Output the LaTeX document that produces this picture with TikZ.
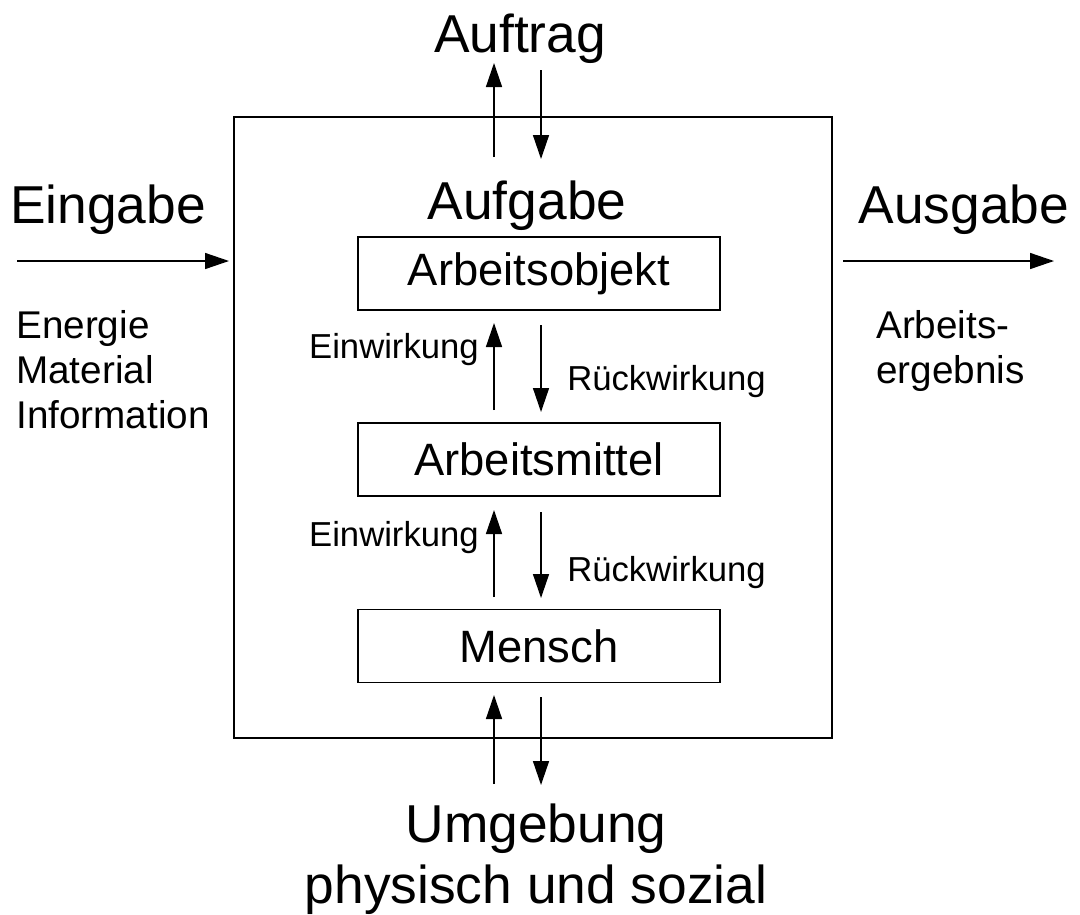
\documentclass[tikz,border=0pt]{standalone}
\usepackage{fontspec}
\setmainfont{Liberation Sans}
\usetikzlibrary{arrows.meta}
\begin{document}
\begin{tikzpicture}[x=0.75pt,y=-0.75pt,
  line/.style={line width=1.1pt},
  arr/.style={line width=1.1pt,-{Triangle[length=18pt,width=12pt]}},
  big/.style={inner sep=0pt,font=\fontsize{40}{46}\selectfont},
  boxtxt/.style={inner sep=0pt,font=\fontsize{34}{40}\selectfont},
  small/.style={inner sep=0pt,font=\fontsize{26}{30}\selectfont},
  side/.style={inner sep=0pt,align=left,font=\fontsize{29}{34}\selectfont},
  inbox/.style={draw,line width=1.1pt,minimum width=362*0.75pt,minimum height=73*0.75pt,inner sep=0pt,font=\fontsize{34}{40}\selectfont}]
\useasboundingbox (0,0) rectangle (1080,914);
% outer system box
\node[draw,line width=1.1pt,minimum width=598*0.75pt,minimum height=621*0.75pt,inner sep=0pt] (sys) at (533,427.5) {};
% inner boxes
\node[inbox] (obj) at (539,273.5) {Arbeitsobjekt};
\node[inbox] (mit) at (539,459.5) {Arbeitsmittel};
\node[inbox] (men) at (539,646) {Mensch};
% texts
\node[big] (auftrag) at (520,39) {Auftrag};
\node[big] (aufgabe) at (527,206) {Aufgabe};
\node[big] (eingabe) at (108,210) {Eingabe};
\node[big] (ausgabe) at (964,210) {Ausgabe};
\node[side,anchor=north west] (einTxt) at (16,310) {Energie\\Material\\Information};
\node[side,anchor=north west] (ausTxt) at (876,310) {Arbeits-\\ergebnis};
\node[big,align=center] (umg) at (536,859) {Umgebung\\physisch und sozial};
\node[small,anchor=east] (ew1) at (479,350) {Einwirkung};
\node[small,anchor=west] (rw1) at (567,382) {Rückwirkung};
\node[small,anchor=east] (ew2) at (479,538) {Einwirkung};
\node[small,anchor=west] (rw2) at (567,573) {Rückwirkung};
% arrow coordinates
\coordinate (tUp1) at (494,157);  \coordinate (hUp1) at (494,63);
\coordinate (tDn1) at (541,70);   \coordinate (hDn1) at (541,159);
\coordinate (tUp2) at (494,410);  \coordinate (hUp2) at (494,323);
\coordinate (tDn2) at (541,325);  \coordinate (hDn2) at (541,412);
\coordinate (tUp3) at (494,597);  \coordinate (hUp3) at (494,510);
\coordinate (tDn3) at (541,512);  \coordinate (hDn3) at (541,598);
\coordinate (tUp4) at (494,784);  \coordinate (hUp4) at (494,695);
\coordinate (tDn4) at (541,697);  \coordinate (hDn4) at (541,785);
\coordinate (inL) at (17,261);    \coordinate (inR) at (229,261);
\coordinate (outL) at (843,261);  \coordinate (outR) at (1054,261);
\draw[arr] (tUp1) -- (hUp1);
\draw[arr] (tDn1) -- (hDn1);
\draw[arr] (tUp2) -- (hUp2);
\draw[arr] (tDn2) -- (hDn2);
\draw[arr] (tUp3) -- (hUp3);
\draw[arr] (tDn3) -- (hDn3);
\draw[arr] (tUp4) -- (hUp4);
\draw[arr] (tDn4) -- (hDn4);
\draw[arr] (inL) -- (inR);
\draw[arr] (outL) -- (outR);
\end{tikzpicture}
\end{document}
